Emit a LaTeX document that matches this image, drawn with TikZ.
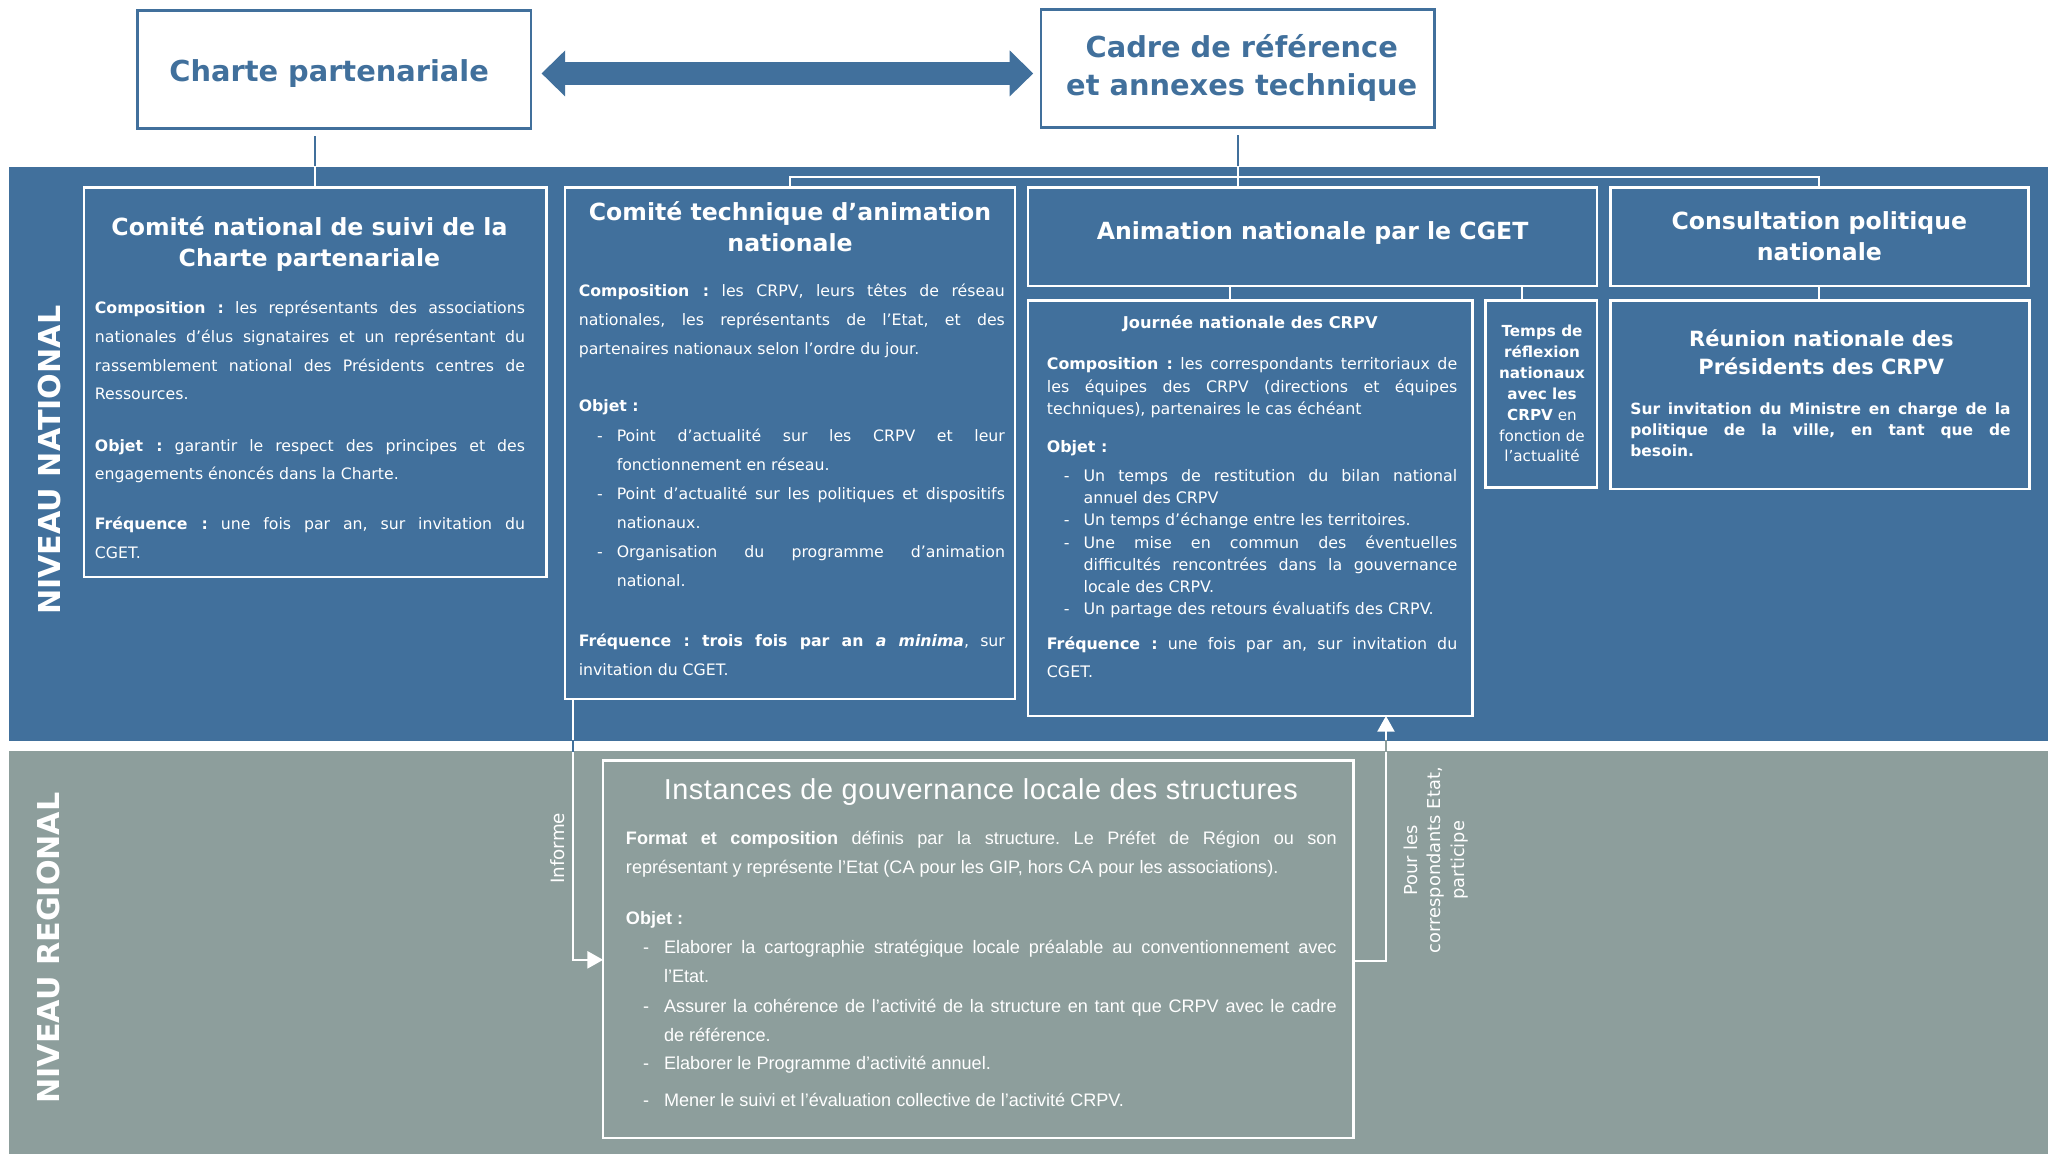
\documentclass[tikz,border=0pt]{standalone}
\usepackage{fontspec}
\setmainfont{DejaVu Sans}
\newfontfamily\arialf{Liberation Sans}
\newfontfamily\arialsp[LetterSpace=2]{Liberation Sans}
\usetikzlibrary{arrows.meta,calc}
\definecolor{natblue}{HTML}{41709C}
\definecolor{reggrey}{HTML}{8D9E9C}
\frenchspacing
\newcommand{\rbox}[6][]{\node[#1, inner sep=0pt, outer sep=0pt, minimum width={(#4-#2)*0.5pt}, minimum height={(#5-#3)*0.5pt}] (#6) at ({(#2+#4)/2},{(#3+#5)/2}) {};}
\newcommand{\itemdash}{\llap{\makebox[7.5pt][l]{-}}}
\newcommand{\idash}{\llap{\makebox[8pt][l]{-}}}
\newcommand{\jset}{\frenchspacing\tolerance=9999\hyphenpenalty=10000\exhyphenpenalty=10000}
\tikzset{
  wbox/.style={draw=white, line width=1pt},
  tbox/.style={draw=natblue, line width=1pt, fill=white},
  wline/.style={draw=white, line width=0.8pt},
  conn/.style={draw=white, line width=0.8pt, -{Triangle[length=6pt,width=6.5pt]}},
  toptext/.style={text=natblue, font=\bfseries\fontsize{11}{14.5}\selectfont, align=center, inner sep=0pt},
  btitle/.style={text=white, font=\bfseries\fontsize{9}{12}\selectfont, align=center, inner sep=0pt},
  body/.style={text=white, inner sep=0pt, anchor=base west, align=justify, font=\fontsize{6}{11}\selectfont\jset},
  jbody/.style={body, font=\fontsize{6.05}{8.5}\selectfont\jset},
  ibody/.style={body, font=\arialf\fontsize{6.9}{11}\selectfont\jset},
  vlabel/.style={rotate=90, text=white, inner sep=0pt},
}
\begin{document}
\begin{tikzpicture}[x=0.5pt,y=-0.5pt]
\useasboundingbox (0,0) rectangle (1568,880);
\fill[white] (0,0) rectangle (1568,880);
% bands
\fill[natblue] (7,127) rectangle (1562,565);
\fill[reggrey] (7,573) rectangle (1562,880);

% top boxes
\rbox[tbox]{105}{8}{405}{98}{charte}
\rbox[tbox]{794}{7}{1094}{97}{cadre}
\node[toptext] (chartet) at (251,56) {Charte partenariale};
\node[toptext] (cadret) at (947,52) {Cadre de référence\\et annexes technique};
\draw[natblue, line width=9pt, {Triangle[length=9pt,width=17pt]}-{Triangle[length=9pt,width=17pt]}] ($(charte.east)+(8,3)$) -- ($(cadre.west)+(-6,4)$);

% national boxes
\rbox[wbox]{64}{143}{417}{440}{cn}
\rbox[wbox]{431}{143}{774}{533}{ct}
\rbox[wbox]{784}{143}{1218}{218}{an}
\rbox[wbox]{1228}{143}{1547}{218}{cp}
\rbox[wbox]{784}{229}{1123}{546}{jn}
\rbox[wbox]{1133}{229}{1218}{372}{tr}
\rbox[wbox]{1228}{229}{1548}{373}{rn}
% regional box
\rbox[wbox]{460}{580}{1032}{868}{inst}

% connectors from top boxes
\coordinate (c1) at ($(cn.north |- charte.south)+(0,6)$);
\coordinate (c2) at ($(cadre.south)+(0,6)$);
\draw[natblue, line width=0.8pt] (c1) -- (cn.north);
\draw[natblue, line width=0.8pt] (c2) -- (cadre.south |- an.north);
\begin{scope}
  \clip (7,127) rectangle (1562,565);
  \draw[wline] (c1) -- (cn.north);
  \draw[wline] (c2) -- (cadre.south |- an.north);
\end{scope}
\draw[wline] (ct.north) -- ++(0,-8) -| (cp.north);
\draw[wline] ($(an.south west)+(154,0)$) -- ($(jn.north west)+(154,0)$);
\draw[wline] ($(an.south east)+(-57,0)$) -- ($(tr.north east)+(-57,0)$);
\draw[wline] (cp.south) -- (cp.south |- rn.north);

% national / regional links
\draw[conn] ($(ct.south west)+(6,0)$) |- ($(inst.west)+(0,8)$);
\draw[conn] ($(inst.east)+(0,9)$) -| ($(jn.south west)+(273,0)$);
\begin{scope}
  \clip (7,565) rectangle (1562,573);
  \draw[natblue, line width=0.8pt] ($(ct.south west)+(6,0)$) |- ($(inst.west)+(0,8)$);
  \draw[reggrey, line width=0.8pt] ($(inst.east)+(0,9)$) -| ($(jn.south west)+(273,0)$);
\end{scope}
\node[vlabel, font=\fontsize{7}{9}\selectfont] (informe) at (425,647) {Informe};
\node[vlabel, align=center, font=\fontsize{6.8}{9}\selectfont] (pourles) at (1095,656) {Pour les\\correspondants Etat,\\participe};

% level labels
\node[vlabel, font=\bfseries\fontsize{11.5}{12}\selectfont] (nivnat) at (38,351) {NIVEAU NATIONAL};
\node[vlabel, font=\bfseries\fontsize{11.5}{12}\selectfont] (nivreg) at (37,723) {NIVEAU REGIONAL};

% titles
\node[btitle] (cnt) at (236,186) {Comité national de suivi de la\\Charte partenariale};
\node[btitle] (ctt) at (602.5,173) {Comité technique d’animation\\nationale};
\node[btitle] (ant) at (1001,178) {Animation nationale par le CGET};
\node[btitle] (cpt) at (1387.5,180) {Consultation politique\\nationale};
\node[btitle, font=\bfseries\fontsize{6.2}{8}\selectfont] (jnt) at (953.5,247) {Journée nationale des CRPV};
\node[btitle, font=\bfseries\fontsize{8}{10.5}\selectfont] (rnt) at (1389,268.5) {Réunion nationale des\\Présidents des CRPV};
\node[text=white, align=center, font=\fontsize{5.8}{8}\selectfont, inner sep=0pt] (trt) at (1176,300) {\textbf{Temps de}\\\textbf{réflexion}\\\textbf{nationaux}\\\textbf{avec les}\\\textbf{CRPV} en\\fonction de\\l’actualité};
\node[text=white, font=\arialsp\fontsize{11}{13}\selectfont, inner sep=0pt] (instt) at (748,604) {Instances de gouvernance locale des structures};

% Comite national body
\node[body, text width=164pt] (cnb1) at (72,239) {\textbf{Composition~:} les représentants des associations\linebreak nationales d’élus signataires et un représentant du\linebreak rassemblement national des Présidents centres de\linebreak Ressources.};
\node[body, text width=164pt] (cnb2) at (72,344) {\textbf{Objet~:} garantir le respect des principes et des\linebreak engagements énoncés dans la Charte.};
\node[body, text width=164pt] (cnb3) at (72,404) {\textbf{Fréquence~:} une fois par an, sur invitation du\linebreak CGET.};

% Comite technique body
\node[body, text width=162.5pt] (ctb1) at (441,226) {\textbf{Composition~:} les CRPV, leurs têtes de réseau\linebreak nationales, les représentants de l’Etat, et des\linebreak partenaires nationaux selon l’ordre du jour.};
\node[body, text width=162.5pt] (ctb2) at (441,314) {\textbf{Objet~:}};
\node[body, text width=148pt] (ctb3) at (470,337) {\itemdash Point d’actualité sur les CRPV et leur\linebreak fonctionnement en réseau.};
\node[body, text width=148pt] (ctb4) at (470,381) {\itemdash Point d’actualité sur les politiques et dispositifs\linebreak nationaux.};
\node[body, text width=148pt] (ctb5) at (470,425) {\itemdash Organisation du programme d’animation\linebreak national.};
\node[body, text width=162.5pt] (ctb6) at (441,493) {\textbf{Fréquence~: trois fois par an \textit{a minima}}, sur\linebreak invitation du CGET.};

% Journee body
\node[jbody, text width=156.5pt] (jnb1) at (798,282) {\textbf{Composition~:} les correspondants territoriaux de\linebreak les équipes des CRPV (directions et équipes\linebreak techniques), partenaires le cas échéant};
\node[jbody, text width=156.5pt] (jnb2) at (798,345) {\textbf{Objet~:}};
\node[jbody, text width=142.5pt] (jnb3) at (826,367) {\itemdash Un temps de restitution du bilan national\linebreak annuel des CRPV};
\node[jbody, text width=142.5pt] (jnb4) at (826,401) {\itemdash Un temps d’échange entre les territoires.};
\node[jbody, text width=142.5pt] (jnb5) at (826,418) {\itemdash Une mise en commun des éventuelles\linebreak difficultés rencontrées dans la gouvernance\linebreak locale des CRPV.};
\node[jbody, text width=142.5pt] (jnb6) at (826,469) {\itemdash Un partage des retours évaluatifs des CRPV.};
\node[body, text width=156.5pt, font=\fontsize{6.05}{11}\selectfont\jset] (jnb7) at (798,495) {\textbf{Fréquence~:} une fois par an, sur invitation du\linebreak CGET.};

% Reunion body
\node[body, text width=145pt, font=\bfseries\fontsize{5.9}{8}\selectfont\jset] (rnb) at (1243,316) {Sur invitation du Ministre en charge de la\linebreak politique de la ville, en tant que de\linebreak besoin.};

% Instances body
\node[ibody, text width=271pt] (instb1) at (477,644) {\textbf{Format et composition} définis par la structure. Le Préfet de Région ou son\linebreak représentant y représente l’Etat (CA pour les GIP, hors CA pour les associations).};
\node[ibody, text width=271pt] (instb2) at (477,705) {\textbf{Objet~:}};
\node[ibody, text width=256.5pt] (instb3) at (506,727) {\idash Elaborer la cartographie stratégique locale préalable au conventionnement avec\linebreak l’Etat.};
\node[ibody, text width=256.5pt] (instb4) at (506,772) {\idash Assurer la cohérence de l’activité de la structure en tant que CRPV avec le cadre\linebreak de référence.};
\node[ibody, text width=256.5pt] (instb5) at (506,816) {\idash Elaborer le Programme d’activité annuel.};
\node[ibody, text width=256.5pt] (instb6) at (506,844) {\idash Mener le suivi et l’évaluation collective de l’activité CRPV.};
\end{tikzpicture}
\end{document}
